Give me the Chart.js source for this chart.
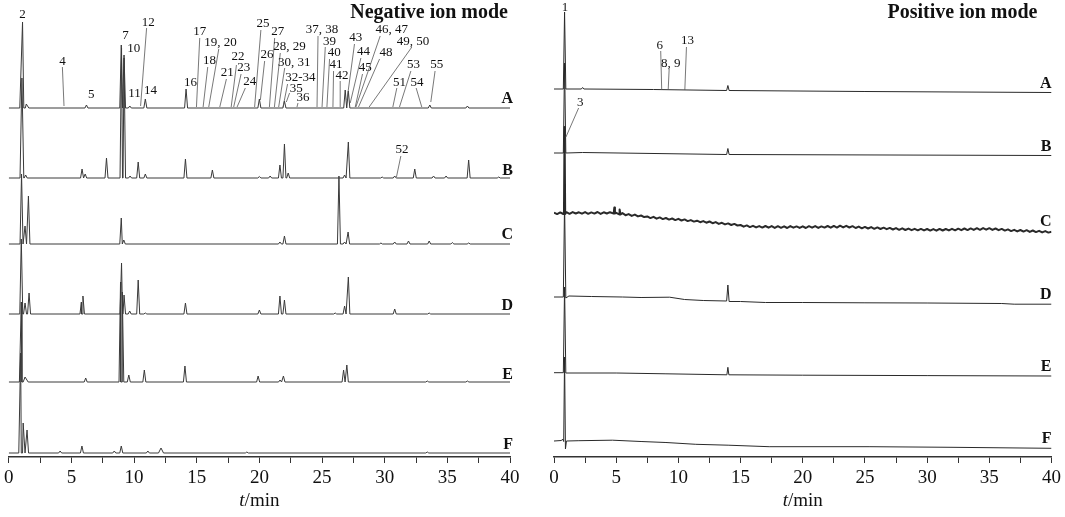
<!DOCTYPE html>
<html>
<head>
  <title>Chromatograms negative / positive ion mode</title>
  <script src="https://cdn.jsdelivr.net/npm/chart.js"></script>
  <style>
    body { margin: 0; background: #fff; }
    #wrap { position: relative; width: 1065px; height: 517px; }
    canvas { position: absolute; top: 0; }
    #neg { left: 0; }
    #pos { left: 532px; }
  </style>
</head>
<body>
<div id="wrap">
  <canvas id="neg" width="532" height="517"></canvas>
  <canvas id="pos" width="533" height="517"></canvas>
</div>
<script>
  const samples = ["A", "B", "C", "D", "E", "F"];
  const timeTicks = [0, 5, 10, 15, 20, 25, 30, 35, 40];

  // ---- negative ion mode ----
  // baseline of each stacked trace (signal units above the time axis)
  const negBase = [349, 279, 213, 143, 75, 4];

  // peaks: [retention time (min), height, half width (min, optional)]
  const negA = [[1.1, 86, 0.22], [1.4, 4, 0.2], [6.2, 3], [8.98, 63], [9.2, 53], [9.66, 2],
    [10.9, 9], [14.15, 19], [20.0, 9], [22.0, 7], [26.85, 18], [27.1, 17], [33.6, 3], [36.6, 2]];
  const negB = [[1.05, 100, 0.15], [1.35, 3], [5.85, 9], [6.1, 4], [7.8, 20], [9.0, 130],
    [9.2, 120], [9.68, 2], [10.33, 16], [10.9, 4], [14.1, 19], [16.25, 8], [20.0, 1.5],
    [20.86, 2], [21.64, 13], [22.0, 34], [22.3, 5], [26.8, 3], [27.1, 36], [29.8, 1],
    [30.8, 2], [32.4, 9], [33.9, 2], [34.9, 2], [36.7, 18], [39.1, 1]];
  const negC = [[1.02, 70], [1.3, 18], [1.57, 48], [8.98, 26], [9.18, 4], [21.64, 2],
    [22.0, 8], [26.35, 68], [26.8, 2], [27.08, 12], [29.7, 1], [30.8, 2], [31.9, 3],
    [33.55, 3], [35.4, 1.5], [36.7, 1]];
  const negD = [[1.0, 75], [1.3, 11], [1.62, 21], [5.8, 12], [5.92, 18], [9.0, 51], [9.2, 19],
    [9.65, 3], [10.33, 34], [10.9, 1], [14.1, 11], [20.0, 4], [21.64, 18], [22.0, 14],
    [26.05, 1], [26.8, 8], [27.1, 37], [30.8, 5], [33.55, 1]];
  const negE = [[1.0, 80, 0.15], [1.3, 5, 0.25], [6.14, 4], [8.92, 100], [9.06, 90], [9.58, 7],
    [10.82, 12], [14.06, 16], [19.9, 6], [21.65, 2], [21.92, 6], [26.72, 12], [26.98, 17],
    [33.4, 1], [36.6, 1]];
  const negF = [[0.95, 100, 0.15], [1.15, 30, 0.15], [1.46, 23], [4.1, 2], [5.84, 7], [8.42, 2],
    [8.98, 7], [11.1, 2], [12.15, 5, 0.2], [19.0, 1], [33.4, 1]];

  // ---- positive ion mode: [time, signal] ----
  const posA = [[0, 368], [0.75, 368], [0.85, 445], [0.95, 368], [2.2, 368], [2.3, 369.5], [2.4, 368],
    [8, 367.5], [13.88, 366.5], [13.98, 371.5], [14.08, 366.5], [25, 365.5], [40, 364.5]];
  const posB = [[0, 304], [0.75, 304], [0.85, 394], [0.95, 304], [2.3, 304.5], [13.88, 302.5],
    [13.98, 308.5], [14.08, 302.5], [40, 301.5]];
  // trace C is noisy: one reading every 0.25 min from 0 to 40
  const posC = [
    244.3, 242.9, 244.6, 243.0, 244.8, 243.2, 244.9, 243.5, 244.7, 243.3,
    244.9, 243.2, 244.6, 243.4, 245.0, 243.1, 244.7, 243.5, 244.8, 243.6,
    244.2, 242.6, 243.9, 241.8, 242.9, 241.1, 242.4, 240.6, 241.5, 239.9,
    240.6, 238.9, 240.2, 238.3, 239.6, 237.9, 239.0, 237.4, 238.5, 236.9,
    238.2, 236.5, 237.6, 235.9, 236.9, 235.4, 236.3, 234.8, 235.9, 234.3,
    235.5, 233.8, 234.9, 233.1, 234.2, 232.6, 233.6, 232.0, 233.1, 231.5,
    232.0, 230.3, 231.6, 229.9, 231.2, 229.6, 230.9, 229.4, 231.0, 229.3,
    230.9, 229.1, 230.8, 229.2, 230.7, 229.0, 230.9, 229.3, 230.6, 229.1,
    230.7, 229.0, 230.8, 229.3, 230.9, 229.1, 230.6, 229.4, 231.0, 229.3,
    231.1, 229.4, 231.3, 229.6, 231.2, 229.5, 230.8, 229.0, 230.4, 228.7,
    230.1, 228.5, 229.9, 228.2, 229.6, 228.0, 229.3, 227.8, 229.1, 227.5,
    228.9, 227.2, 228.7, 227.0, 228.4, 226.8, 228.2, 226.7, 228.1, 226.6,
    228.0, 226.4, 227.9, 226.3, 228.1, 226.5, 228.0, 226.6, 228.2, 226.7,
    228.3, 226.8, 228.5, 226.9, 228.6, 227.1, 228.8, 227.2, 228.9, 227.3,
    228.8, 227.1, 228.5, 226.8, 228.1, 226.4, 227.6, 225.9, 227.2, 225.6,
    227.0, 225.4, 226.8, 225.1, 226.5, 224.9, 226.2, 224.6, 225.9, 224.4,
    225.2];
  const posCspikes = [[0.8, 243.5], [0.85, 330], [0.9, 243], [4.8, 244], [4.85, 249.5], [4.9, 243.5],
    [5.25, 243], [5.3, 247.5], [5.35, 242.5]];
  const posD = [[0, 160], [0.75, 160], [0.85, 255], [0.95, 159], [1.2, 161], [3, 160.5], [5.5, 160],
    [7, 159.5], [9.3, 159.8], [10.5, 157.5], [12, 156.5], [13.88, 156], [13.98, 172], [14.08, 155.5],
    [15, 155.5], [17, 154.5], [20, 154.5], [25, 154.2], [30, 154], [36, 153.5], [37, 152.8], [40, 152.8]];
  const posE = [[0, 84.3], [0.75, 84.3], [0.85, 170], [0.95, 84], [5, 84], [9, 83.2], [13.9, 82.2],
    [13.98, 89.7], [14.06, 82.2], [20, 81.8], [30, 81.4], [40, 81]];
  const posF = [[0, 16], [0.6, 16.5], [0.7, 18], [0.78, 15.5], [0.85, 100], [0.92, 8], [1.0, 16],
    [2, 16.3], [4.7, 16.8], [7, 15.5], [9, 14.5], [11.4, 12.7], [14, 11.8], [17.3, 10.3],
    [25.4, 10.3], [32, 9.7], [40, 8.7]];

  // ---- annotations: [text, t, y, leader t1, y1, t2, y2] ----
  const negLabels = [
    ["2", 1.09, 442], ["4", 4.28, 395, 4.28, 390, 4.41, 351], ["5", 6.59, 362],
    ["7", 9.32, 421], ["10", 9.98, 408], ["11", 10.04, 363],
    ["12", 11.13, 434, 11.0, 429, 10.52, 351], ["14", 11.31, 366], ["16", 14.5, 374],
    ["17", 15.24, 425, 15.24, 419, 14.98, 350], ["18", 16.02, 396, 15.88, 390, 15.51, 350],
    ["19, 20", 16.89, 414, 16.76, 408, 15.96, 350], ["21", 17.43, 384, 17.37, 378, 16.84, 350],
    ["22", 18.3, 400, 18.17, 392, 17.75, 350], ["23", 18.75, 389, 18.54, 383, 17.95, 350],
    ["24", 19.23, 375, 18.88, 369, 18.22, 350], ["25", 20.28, 433, 20.12, 427, 19.62, 350],
    ["26", 20.61, 402, 20.42, 396, 20.08, 357], ["27", 21.46, 425, 21.22, 419, 20.8, 350],
    ["28, 29", 22.41, 410, 21.67, 404, 21.2, 350], ["30, 31", 22.79, 394, 22.02, 389, 21.54, 350],
    ["32-34", 23.27, 379, 22.25, 373, 21.89, 350], ["35", 22.95, 368, 22.41, 364, 22.15, 355],
    ["36", 23.48, 359, 23.08, 354, 23.0, 350], ["37, 38", 25.0, 427, 24.68, 421, 24.6, 350],
    ["39", 25.6, 415, 25.26, 410, 25.0, 350], ["40", 25.98, 404, 25.6, 398, 25.39, 350],
    ["41", 26.11, 392, 25.92, 386, 25.87, 350], ["42", 26.59, 381, 26.45, 376, 26.45, 350],
    ["43", 27.7, 419, 27.59, 413, 26.99, 357], ["44", 28.31, 405, 28.1, 399, 27.25, 354],
    ["45", 28.45, 389, 28.23, 383, 27.65, 350], ["46, 47", 30.57, 427, 29.64, 421, 27.7, 350],
    ["48", 30.1, 404, 29.59, 398, 27.91, 350], ["49, 50", 32.25, 415, 32.17, 410, 28.76, 350],
    ["51", 31.18, 374, 30.97, 369, 30.65, 350], ["53", 32.3, 392, 32.09, 386, 31.18, 350],
    ["54", 32.57, 374, 32.51, 369, 32.96, 350], ["55", 34.16, 392, 34.02, 386, 33.68, 355],
    ["52", 31.39, 307, 31.29, 301, 30.94, 280]
  ];
  const posLabels = [
    ["1", 0.88, 449], ["3", 2.11, 354, 1.98, 349, 0.96, 320],
    ["6", 8.5, 411, 8.58, 406, 8.66, 367], ["8, 9", 9.39, 393, 9.26, 388, 9.18, 367],
    ["13", 10.73, 416, 10.65, 410, 10.52, 367]
  ];
  const negLetterY = [354, 282, 218, 147, 78, 8];
  const posLetterY = [369, 306, 231, 158, 86, 14];

  const SERIF = '"Liberation Serif", "Times New Roman", serif';

  function peakTrace(base, peaks) {
    const pts = [{ x: 0, y: base }, { x: 40, y: base }];
    peaks.forEach(([t, h, w = 0.12]) => {
      pts.push({ x: t - w, y: base }, { x: t, y: base + h }, { x: t + w, y: base });
    });
    return pts.sort((a, b) => a.x - b.x);
  }
  const toPts = arr => arr.map(([x, y]) => ({ x, y })).sort((a, b) => a.x - b.x);

  function overlay(title, titleShift, labels, letterY) {
    return {
      id: 'overlay',
      afterDraw(chart) {
        const { ctx, chartArea, scales: { x, y } } = chart;
        ctx.save();
        ctx.fillStyle = '#111';
        ctx.strokeStyle = '#555';
        ctx.lineWidth = 0.8;
        ctx.font = '13px ' + SERIF;
        ctx.textAlign = 'center';
        ctx.textBaseline = 'middle';
        labels.forEach(([txt, tx, ty, t1, y1, t2, y2]) => {
          ctx.fillText(txt, x.getPixelForValue(tx), y.getPixelForValue(ty));
          if (t1 !== undefined) {
            ctx.beginPath();
            ctx.moveTo(x.getPixelForValue(t1), y.getPixelForValue(y1));
            ctx.lineTo(x.getPixelForValue(t2), y.getPixelForValue(y2));
            ctx.stroke();
          }
        });

        ctx.font = 'bold 16px ' + SERIF;
        ctx.textAlign = 'right';
        ctx.textBaseline = 'alphabetic';
        samples.forEach((s, i) => {
          ctx.fillText(s, chartArea.right + (titleShift > 0 ? 3 : 0), y.getPixelForValue(letterY[i]));
        });

        ctx.font = 'bold 20px ' + SERIF;
        ctx.fillText(title, chartArea.right - Math.abs(titleShift), 18);

        // axis title: italic t + /min
        const cx = (chartArea.left + chartArea.right) / 2;
        ctx.textAlign = 'left';
        ctx.font = 'italic 19px ' + SERIF;
        const wt = ctx.measureText('t').width;
        ctx.font = '19px ' + SERIF;
        const wm = ctx.measureText('/min').width;
        const x0 = cx - (wt + wm) / 2;
        ctx.font = 'italic 19px ' + SERIF;
        ctx.fillText('t', x0, 506);
        ctx.font = '19px ' + SERIF;
        ctx.fillText('/min', x0 + wt, 506);
        ctx.restore();
      }
    };
  }

  function makeChart(id, datasets, padding, plugin) {
    return new Chart(document.getElementById(id), {
      type: 'line',
      data: { datasets },
      options: {
        responsive: false,
        animation: false,
        devicePixelRatio: 1,
        layout: { padding },
        plugins: { legend: { display: false }, tooltip: { enabled: false } },
        elements: { point: { radius: 0 }, line: { tension: 0, borderJoinStyle: 'round' } },
        scales: {
          x: {
            type: 'linear', min: 0, max: 40,
            afterFit: s => { s.height = 60; },
            ticks: {
              stepSize: 2.5, autoSkip: false, maxRotation: 0, padding: 4,
              color: '#111', font: { family: SERIF, size: 19 },
              callback: v => timeTicks.includes(v) ? String(v) : ''
            },
            grid: { display: true, drawOnChartArea: false, drawTicks: true, tickLength: 6, color: '#333', lineWidth: 1 },
            border: { display: true, color: '#333', width: 1.5 }
          },
          y: { type: 'linear', min: 0, max: 457, display: false }
        }
      },
      plugins: [plugin]
    });
  }

  const negPeaks = [negA, negB, negC, negD, negE, negF];
  makeChart('neg',
    negPeaks.map((p, i) => ({
      label: samples[i], data: peakTrace(negBase[i], p),
      borderColor: '#3a3a3a', borderWidth: 1
    })),
    { left: 8, right: 22, top: 0, bottom: 0 },
    overlay('Negative ion mode', 2, negLabels, negLetterY));

  const posCpts = posC.map((v, i) => ({ x: i * 0.25, y: v }))
    .concat(posCspikes.map(([x, y]) => ({ x, y })))
    .sort((a, b) => a.x - b.x);
  const posTraces = [toPts(posA), toPts(posB), posCpts, toPts(posD), toPts(posE), toPts(posF)];
  makeChart('pos',
    posTraces.map((d, i) => ({
      label: samples[i], data: d,
      borderColor: '#2a2a2a', borderWidth: i === 2 ? 2 : 1
    })),
    { left: 22, right: 10, top: 0, bottom: 0 },
    overlay('Positive ion mode', -14, posLabels, posLetterY));
</script>
</body>
</html>
